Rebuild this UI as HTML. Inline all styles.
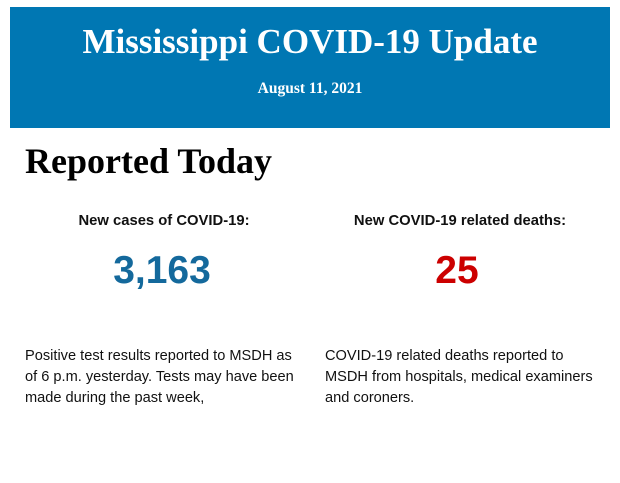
<!DOCTYPE html>
<html><head><meta charset="utf-8"><style>
body{margin:0;width:620px;height:483px;background:#fff;position:relative;overflow:hidden;font-family:"Liberation Sans",sans-serif}
.banner{position:absolute;left:10px;top:7px;width:600px;height:121px;background:#0077b3;color:#fff;text-align:center;font-family:"Liberation Serif",serif;font-weight:bold}
.t{position:absolute;left:0;right:0;top:15px;font-size:35px}
.d{position:absolute;left:0;right:0;top:73px;font-size:15.5px}
h1{position:absolute;left:25px;top:140px;margin:0;font-family:"Liberation Serif",serif;font-size:36px;font-weight:bold;color:#000}
.lbl{position:absolute;top:213px;font-size:14.8px;font-weight:bold;text-align:center;width:300px;color:#111}
.num{position:absolute;top:249px;font-size:39px;font-weight:bold;text-align:center;width:300px}
.p{position:absolute;top:346px;font-size:14.6px;line-height:21px;color:#111;width:275px}
</style></head><body>
<div class="banner"><div class="t">Mississippi COVID-19 Update</div><div class="d">August 11, 2021</div></div>
<h1>Reported Today</h1>
<div class="lbl" style="left:14px">New cases of COVID-19:</div>
<div class="lbl" style="left:310px">New COVID-19 related deaths:</div>
<div class="num" style="left:12px;color:#14699c">3,163</div>
<div class="num" style="left:307px;color:#cc0000">25</div>
<div class="p" style="left:25px">Positive test results reported to MSDH as of 6 p.m. yesterday. Tests may have been made during the past week,</div>
<div class="p" style="left:325px">COVID-19 related deaths reported to MSDH from hospitals, medical examiners and coroners.</div>
</body></html>
